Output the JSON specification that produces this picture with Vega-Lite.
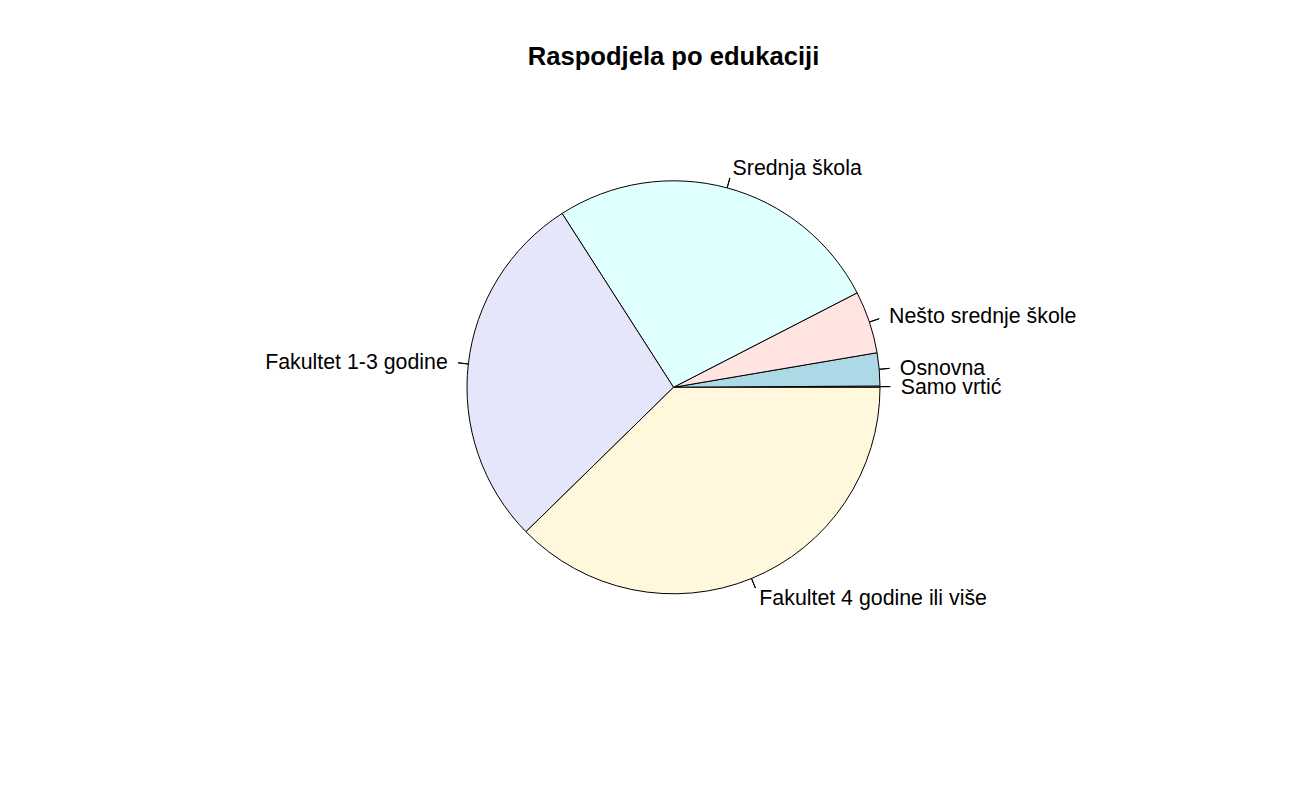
{
  "$schema": "https://vega.github.io/schema/vega-lite/v6.json",
  "autosize": {"type": "none"},
  "padding": {"left": 273.5, "top": 107.3, "right": 221.5, "bottom": 133.7},
  "width": 800,
  "height": 560,
  "background": "white",
  "config": {"view": {"stroke": null}},
  "title": {
    "text": "Raspodjela po edukaciji",
    "font": "Liberation Sans",
    "fontSize": 25.6,
    "fontWeight": "bold",
    "color": "black",
    "anchor": "middle",
    "frame": "group",
    "baseline": "alphabetic",
    "offset": 16.3
  },
  "data": {
    "values": [
      {"idx": 1, "label": "Samo vrtić", "pct": 0.1},
      {"idx": 2, "label": "Osnovna", "pct": 2.58},
      {"idx": 3, "label": "Nešto srednje škole", "pct": 4.88},
      {"idx": 4, "label": "Srednja škola", "pct": 26.51},
      {"idx": 5, "label": "Fakultet 1-3 godine", "pct": 28.26},
      {"idx": 6, "label": "Fakultet 4 godine ili više", "pct": 37.67}
    ]
  },
  "layer": [
    {
      "mark": {"type": "arc", "outerRadius": 206.5, "stroke": "black", "strokeWidth": 1},
      "encoding": {
        "theta": {"field": "pct", "type": "quantitative", "stack": true, "scale": {"range": [1.5707963, -4.712389]}},
        "order": {"field": "idx", "type": "quantitative"},
        "color": {
          "field": "label",
          "type": "nominal",
          "legend": null,
          "scale": {
            "domain": ["Samo vrtić", "Osnovna", "Nešto srednje škole", "Srednja škola", "Fakultet 1-3 godine", "Fakultet 4 godine ili više"],
            "range": ["#FFFFFF", "#ADD8E6", "#FFE4E1", "#E0FFFF", "#E6E6FA", "#FFF8DC"]
          }
        }
      }
    },
    {
      "transform": [
        {"stack": "pct", "groupby": [], "sort": [{"field": "idx"}], "as": ["s", "e"]},
        {"fold": ["s", "e"], "as": ["k", "v"]},
        {"aggregate": [{"op": "mean", "field": "v", "as": "mid"}], "groupby": ["label"]}
      ],
      "mark": {"type": "arc", "innerRadius": 206.5, "outerRadius": 216.8, "stroke": "black", "strokeWidth": 1, "fillOpacity": 0},
      "encoding": {
        "theta": {"field": "mid", "type": "quantitative", "stack": null},
        "theta2": {"field": "mid"}
      }
    },
    {
      "transform": [
        {"stack": "pct", "groupby": [], "sort": [{"field": "idx"}], "as": ["s", "e"]},
        {"fold": ["s", "e"], "as": ["k", "v"]},
        {"aggregate": [{"op": "mean", "field": "v", "as": "mid"}], "groupby": ["label"]},
        {"filter": "datum.label !== 'Fakultet 1-3 godine'"}
      ],
      "mark": {"type": "text", "radius": 227.2, "align": "left", "baseline": "alphabetic", "dy": 7.2, "font": "Liberation Sans", "fontSize": 21.33, "color": "black"},
      "encoding": {
        "theta": {"field": "mid", "type": "quantitative", "stack": null},
        "text": {"field": "label"}
      }
    },
    {
      "transform": [
        {"stack": "pct", "groupby": [], "sort": [{"field": "idx"}], "as": ["s", "e"]},
        {"fold": ["s", "e"], "as": ["k", "v"]},
        {"aggregate": [{"op": "mean", "field": "v", "as": "mid"}], "groupby": ["label"]},
        {"filter": "datum.label === 'Fakultet 1-3 godine'"}
      ],
      "mark": {"type": "text", "radius": 227.2, "align": "right", "baseline": "alphabetic", "dy": 7.2, "font": "Liberation Sans", "fontSize": 21.33, "color": "black"},
      "encoding": {
        "theta": {"field": "mid", "type": "quantitative", "stack": null},
        "text": {"field": "label"}
      }
    }
  ]
}
